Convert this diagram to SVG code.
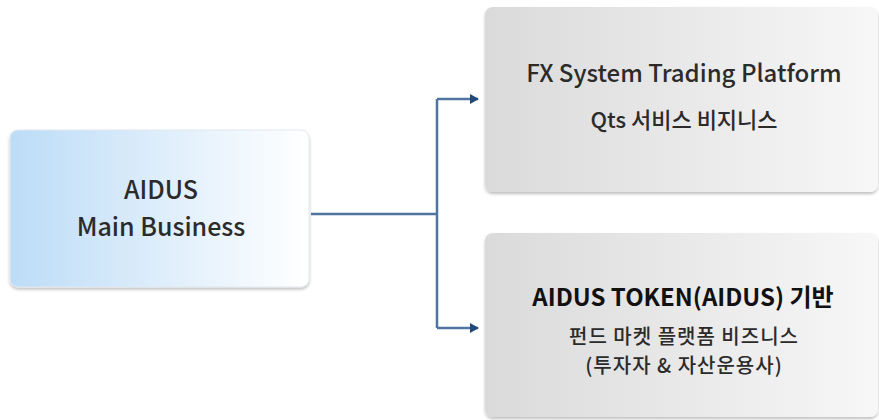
<svg xmlns="http://www.w3.org/2000/svg" width="879" height="420" viewBox="0 0 879 420">
<style>
text { font-family: "Noto Sans CJK KR", "Noto Sans", sans-serif; text-anchor: middle; fill: #2b2b2b; font-weight: 500; }
.big { font-size: 25px; }
.title { font-size: 24px; }
.sub { font-size: 22px; }
.sub2 { font-size: 20px; letter-spacing: 1px; }
.bold { font-weight: bold; fill: #111; }
.conn { fill: none; stroke: #4f74a0; stroke-width: 2.5; }
</style>
<defs>
<linearGradient id="blueGrad" x1="0" y1="0" x2="1" y2="0">
<stop offset="0" stop-color="#bcdcf7"/>
<stop offset="1" stop-color="#ffffff"/>
</linearGradient>
<linearGradient id="grayGrad" x1="0" y1="0" x2="1" y2="0">
<stop offset="0" stop-color="#dadada"/>
<stop offset="1" stop-color="#f7f7f7"/>
</linearGradient>
<filter id="shadow" x="-5%" y="-5%" width="110%" height="115%">
<feDropShadow dx="0" dy="2" stdDeviation="1.5" flood-color="#000" flood-opacity="0.25"/>
</filter>
<marker id="arrow" markerWidth="10" markerHeight="10" refX="8" refY="5" orient="auto" markerUnits="userSpaceOnUse">
<path d="M0,0 L9,5 L0,10 z" fill="#1f4a7a"/>
</marker>
</defs>
<g id="connectors">
<path class="conn" d="M311,214 H437"/>
<path class="conn" d="M437,99 V328"/>
<path class="conn" d="M437,99 H478" marker-end="url(#arrow)"/>
<path class="conn" d="M437,328 H478" marker-end="url(#arrow)"/>
</g>
<g id="main">
<rect x="10" y="130" width="299" height="157" rx="8" fill="url(#blueGrad)" stroke="#e2e8ee" stroke-width="1" filter="url(#shadow)"/>
<text class="big" x="161" y="199">AIDUS</text>
<text class="big" x="161" y="236">Main Business</text>
</g>
<g id="fx">
<rect x="485" y="7" width="393" height="185" rx="8" fill="url(#grayGrad)" filter="url(#shadow)"/>
<text class="title" x="684" y="82">FX System Trading Platform</text>
<text class="sub" x="684" y="128">Qts 서비스 비지니스</text>
</g>
<g id="token">
<rect x="485" y="233" width="393" height="184" rx="8" fill="url(#grayGrad)" filter="url(#shadow)"/>
<text class="title bold" x="683" y="306">AIDUS TOKEN(AIDUS) 기반</text>
<text class="sub2" x="684" y="344">펀드 마켓 플랫폼 비즈니스</text>
<text class="sub2" x="684" y="373">(투자자 &amp; 자산운용사)</text>
</g>
</svg>
